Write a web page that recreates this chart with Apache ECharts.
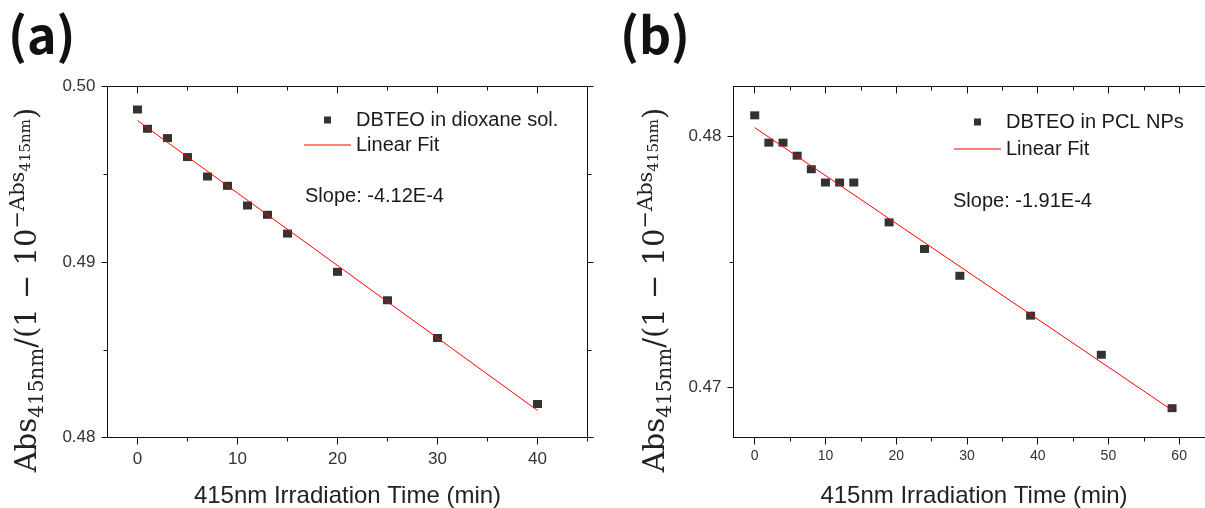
<!DOCTYPE html>
<html>
<head>
<meta charset="utf-8">
<script src="https://cdn.jsdelivr.net/npm/echarts@6/dist/echarts.min.js"></script>
<style>
html,body{margin:0;padding:0;background:#fff;}
#chart{width:1205px;height:508px;}
</style>
</head>
<body>
<div id="chart"></div>
<script>
// ---------- data ----------
const timeA = [0, 1, 3, 5, 7, 9, 11, 13, 15, 20, 25, 30, 40];
const ratioA = [0.49869, 0.49759, 0.49706, 0.49598, 0.49487, 0.49434, 0.49322, 0.49269, 0.49162, 0.48944, 0.48782, 0.48567, 0.48191];
const fitTimeA = [0, 40];
const fitRatioA = [0.49806, 0.48154];

const timeB = [0, 2, 4, 6, 8, 10, 12, 14, 19, 24, 29, 39, 49, 59];
const ratioB = [0.48085, 0.47976, 0.47976, 0.47924, 0.47870, 0.47817, 0.47817, 0.47817, 0.47658, 0.47552, 0.47445, 0.47286, 0.47130, 0.46917];
const fitTimeB = [0, 59];
const fitRatioB = [0.48036, 0.46909];

const xMajorA = [0, 10, 20, 30, 40];
const xMinorA = [5, 15, 25, 35, 45];
const yMajorA = [0.48, 0.49, 0.50];
const yMinorA = [0.485, 0.495];

const xMajorB = [0, 10, 20, 30, 40, 50, 60];
const xMinorB = [5, 15, 25, 35, 45, 55, 65];
const yMajorB = [0.47, 0.48];
const yMinorB = [0.475];

const seriesNameA = 'DBTEO in dioxane sol.';
const seriesNameB = 'DBTEO in PCL NPs';
const fitName = 'Linear Fit';
const slopeA = 'Slope: -4.12E-4';
const slopeB = 'Slope: -1.91E-4';
const xTitle = '415nm Irradiation Time (min)';
const panelA = '(a)';
const panelB = '(b)';

// ---------- styling ----------
const AX = '#111';
const LBL = '#333';
const SANS = 'Liberation Sans, Arial, sans-serif';
const SERIF = 'DejaVu Serif, serif';

const yTitle = '{m|Abs}{s|415nm}{m|/(1 − 10}{p|−Abs}{ps|415nm}{m|)}';
const yTitleRich = {
  m: {fontFamily: SERIF, fontSize: 29, lineHeight: 44, verticalAlign: 'middle', color: '#222'},
  s: {fontFamily: SERIF, fontSize: 20, verticalAlign: 'middle', padding: [18, 0, 0, 0], color: '#222'},
  p: {fontFamily: SERIF, fontSize: 21, verticalAlign: 'middle', padding: [0, 0, 20, 0], color: '#222'},
  ps: {fontFamily: SERIF, fontSize: 15, verticalAlign: 'middle', padding: [0, 0, 4, 0], color: '#222'}
};

const LINE_ICON = 'path://M0,0h47v1h-47z';
const SQUARE_ICON = 'path://M0,0h1v1h-1z';

function tickAxis(g, pos, min, max, values, len, inside) {
  return {gridIndex: g, type: 'value', position: pos, min: min, max: max,
    axisLine: {show: false, onZero: false},
    axisTick: {show: true, inside: inside, length: len, customValues: values, lineStyle: {color: AX, width: 1}},
    axisLabel: {show: false}, splitLine: {show: false}};
}

function xAxes(g, min, max, majors, minors, labelSize, labelMargin) {
  return [
    {gridIndex: g, type: 'value', position: 'bottom', min: min, max: max,
      axisLine: {show: true, onZero: false, lineStyle: {color: AX, width: 1}},
      axisTick: {show: true, inside: false, length: 7, customValues: majors, lineStyle: {color: AX, width: 1}},
      axisLabel: {show: true, customValues: majors, margin: labelMargin, fontSize: labelSize, fontFamily: SANS, color: LBL},
      splitLine: {show: false},
      name: xTitle, nameLocation: 'middle', nameGap: 47,
      nameTextStyle: {fontSize: 24, fontFamily: SANS, color: '#222'}},
    tickAxis(g, 'bottom', min, max, minors, 4, false),
    tickAxis(g, 'top', min, max, majors, 7, true),
    tickAxis(g, 'top', min, max, minors, 4, true)
  ];
}

function yAxes(g, min, max, majors, minors, nameGap, namePad) {
  return [
    {gridIndex: g, type: 'value', position: 'left', min: min, max: max,
      axisLine: {show: true, onZero: false, lineStyle: {color: AX, width: 1}},
      axisTick: {show: true, inside: false, length: 6, customValues: majors, lineStyle: {color: AX, width: 1}},
      axisLabel: {show: true, customValues: majors, margin: 12, fontSize: 17, fontFamily: SANS, color: LBL,
        formatter: v => v.toFixed(2)},
      splitLine: {show: false},
      name: yTitle, nameLocation: 'middle', nameRotate: 90, nameGap: nameGap,
      nameTextStyle: {rich: yTitleRich, padding: namePad}},
    tickAxis(g, 'left', min, max, minors, 4, false),
    tickAxis(g, 'right', min, max, majors, 6, false),
    tickAxis(g, 'right', min, max, minors, 4, false)
  ];
}

const pairs = (xs, ys) => xs.map((x, i) => [x, ys[i]]);

const option = {
  animation: false,
  backgroundColor: '#fff',
  grid: [
    {left: 107.5, top: 86.5, width: 480, height: 351, outerBoundsMode: 'none', containLabel: false,
      show: true, borderColor: AX, borderWidth: 1, backgroundColor: 'transparent'},
    {left: 733.5, top: 86.5, width: 481, height: 351, outerBoundsMode: 'none', containLabel: false,
      show: true, borderColor: AX, borderWidth: 1, backgroundColor: 'transparent'}
  ],
  xAxis: [].concat(
    xAxes(0, -3, 45, xMajorA, xMinorA, 17, 13),
    xAxes(1, -3, 65, xMajorB, xMinorB, 14, 12)
  ),
  yAxis: [].concat(
    yAxes(0, 0.48, 0.50, yMajorA, yMinorA, 57, [0, 56, 0, 0]),
    yAxes(1, 0.468, 0.482, yMajorB, yMinorB, 55, [0, 56, 0, 0])
  ),
  legend: [
    {left: 304, top: 109, orient: 'vertical', padding: 0, itemGap: 3, itemWidth: 47, itemHeight: 7,
      symbolKeepAspect: true,
      textStyle: {fontSize: 20, fontFamily: SANS, color: '#1a1a1a', lineHeight: 22},
      data: [{name: seriesNameA, icon: SQUARE_ICON}, {name: fitName, icon: LINE_ICON}], selectedMode: false},
    {left: 954, top: 111, orient: 'vertical', padding: 0, itemGap: 5, itemWidth: 47, itemHeight: 7,
      symbolKeepAspect: true,
      textStyle: {fontSize: 20, fontFamily: SANS, color: '#1a1a1a', lineHeight: 22},
      data: [{name: seriesNameB, icon: SQUARE_ICON}, {name: fitName, icon: LINE_ICON}], selectedMode: false}
  ],
  series: [
    {name: seriesNameA, type: 'scatter', xAxisIndex: 0, yAxisIndex: 0,
      symbol: 'rect', symbolSize: [9, 8], itemStyle: {color: '#000'}, data: pairs(timeA, ratioA), z: 3},
    {name: fitName, type: 'line', xAxisIndex: 0, yAxisIndex: 0, showSymbol: false, symbol: 'none',
      lineStyle: {color: '#ff0000', width: 1}, itemStyle: {color: '#ff0000'}, data: pairs(fitTimeA, fitRatioA), z: 4},
    {name: seriesNameB, type: 'scatter', xAxisIndex: 4, yAxisIndex: 4,
      symbol: 'rect', symbolSize: [9, 8], itemStyle: {color: '#000'}, data: pairs(timeB, ratioB), z: 3},
    {name: fitName, type: 'line', xAxisIndex: 4, yAxisIndex: 4, showSymbol: false, symbol: 'none',
      lineStyle: {color: '#ff0000', width: 1}, itemStyle: {color: '#ff0000'}, data: pairs(fitTimeB, fitRatioB), z: 4}
  ],
  graphic: [
    {type: 'text', left: 8, top: 10, style: {text: panelA, fontSize: 50, fontWeight: 'bold', fontFamily: 'Noto Sans CJK KR, Noto Sans, sans-serif', fill: '#111'}},
    {type: 'text', left: 620, top: 10, style: {text: panelB, fontSize: 50, fontWeight: 'bold', fontFamily: 'Noto Sans CJK KR, Noto Sans, sans-serif', fill: '#111'}},
    {type: 'text', left: 305, top: 186, style: {text: slopeA, fontSize: 20, fontFamily: SANS, fill: '#1a1a1a'}},
    {type: 'text', left: 953, top: 191, style: {text: slopeB, fontSize: 20, fontFamily: SANS, fill: '#1a1a1a'}}
  ]
};

const chart = echarts.init(document.getElementById('chart'), null, {renderer: 'canvas'});
chart.setOption(option);
</script>
</body>
</html>
